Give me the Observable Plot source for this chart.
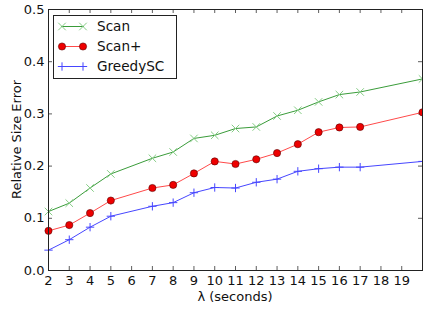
<!DOCTYPE html>
<html><head><meta charset="utf-8">
<script src="https://cdn.jsdelivr.net/npm/d3@7"></script>
<script src="https://cdn.jsdelivr.net/npm/@observablehq/plot@0.6"></script>
<style>
body{margin:0;background:#fff;}
#wrap{position:relative;width:423px;height:309px;font-family:"DejaVu Sans",sans-serif;}
</style>
</head><body><div id="wrap"></div>
<script>
const lambda   = [2, 3, 4, 5, 7, 8, 9, 10, 11, 12, 13, 14, 15, 16, 17, 20];
const scan     = [0.113, 0.129, 0.158, 0.185, 0.215, 0.227, 0.253, 0.259, 0.272, 0.275, 0.296, 0.307, 0.323, 0.337, 0.342, 0.367];
const scanPlus = [0.076, 0.087, 0.110, 0.134, 0.158, 0.164, 0.186, 0.209, 0.204, 0.213, 0.225, 0.242, 0.265, 0.274, 0.275, 0.303];
const greedySC = [0.039, 0.059, 0.083, 0.104, 0.123, 0.130, 0.149, 0.159, 0.158, 0.169, 0.175, 0.190, 0.195, 0.198, 0.198, 0.209];
const seriesNames = ["Scan", "Scan+", "GreedySC"];
const xTicks = [2, 3, 4, 5, 6, 7, 8, 9, 10, 11, 12, 13, 14, 15, 16, 17, 18, 19];
const yTicks = [0.0, 0.1, 0.2, 0.3, 0.4, 0.5];

const styles = {
  "Scan":     {line: "#3a9c3a", fill: "none", stroke: "#86cc86", symbol: "times", r: 3.5},
  "Scan+":    {line: "#ff4a4a", fill: "#ee0000", stroke: "#5a0000", symbol: "circle", r: 3.6},
  "GreedySC": {line: "#4646ff", fill: "none", stroke: "#4646ff", symbol: "plus", r: 2.8}
};
const valuesBy = {"Scan": scan, "Scan+": scanPlus, "GreedySC": greedySC};
const rows = seriesNames.flatMap(s => lambda.map((x, i) => ({series: s, x, y: valuesBy[s][i]})));

const W = 423, H = 309;
const mL = 48, mR = 1, mT = 9, mB = 39;
const marks = [];
// inward ticks on all four sides
const ty = 0.5 * 4 / (H - mT - mB);
marks.push(Plot.ruleX(xTicks, {x: d => d, y1: 0, y2: ty, stroke: "#333", strokeWidth: 0.8}));
marks.push(Plot.ruleX(xTicks, {x: d => d, y1: 0.5 - ty, y2: 0.5, stroke: "#333", strokeWidth: 0.8}));
const dxu = 18 * 4 / (W - mL - mR);
marks.push(Plot.ruleY(yTicks, {y: d => d, x1: 2, x2: 2 + dxu, stroke: "#333", strokeWidth: 0.8}));
marks.push(Plot.ruleY(yTicks, {y: d => d, x1: 20 - dxu, x2: 20, stroke: "#333", strokeWidth: 0.8}));
for (const s of seriesNames) {
  const st = styles[s];
  const data = rows.filter(d => d.series === s);
  marks.push(Plot.lineY(data, {x: "x", y: "y", stroke: st.line, strokeWidth: 1}));
  marks.push(Plot.dot(data, {x: "x", y: "y", symbol: () => st.symbol, r: st.r, fill: st.fill, stroke: st.stroke, strokeWidth: st.symbol === "circle" ? 0.6 : 1}));
}
marks.push(Plot.frame({stroke: "#222", strokeWidth: 1}));
marks.push(Plot.axisX(xTicks, {tickSize: 0, tickPadding: 5, label: null, fontSize: 13, fill: "#111"}));
marks.push(Plot.axisY(yTicks, {tickSize: 0, tickPadding: 4, tickFormat: d3.format(".1f"), label: null, fontSize: 13, fill: "#111"}));

const chart = Plot.plot({
  width: W, height: H,
  marginLeft: mL, marginRight: mR, marginTop: mT, marginBottom: mB,
  style: {fontFamily: "'DejaVu Sans', sans-serif", fontSize: "13px", background: "#fff", overflow: "visible"},
  x: {domain: [2, 20]},
  y: {domain: [0, 0.5]},
  symbol: {type: "identity"},
  marks
});
const wrap = document.getElementById("wrap");
wrap.appendChild(chart);

// axis titles & legend overlay
const svg = d3.select(chart);
svg.append("text").attr("x", mL + (W - mL - mR) / 2).attr("y", 301)
  .attr("text-anchor", "middle").attr("font-size", 13).attr("fill", "#111").text("λ (seconds)");
svg.append("text").attr("transform", `translate(21,${mT + (H - mT - mB) / 2}) rotate(-90)`)
  .attr("text-anchor", "middle").attr("font-size", 13).attr("fill", "#111").text("Relative Size Error");

const lg = svg.append("g").attr("text-anchor", "start");
lg.append("rect").attr("x", 53.5).attr("y", 15.5).attr("width", 123).attr("height", 63)
  .attr("fill", "#fff").attr("stroke", "#222").attr("stroke-width", 1);
seriesNames.forEach((s, i) => {
  const st = styles[s];
  const cy = 26.5 + i * 20;
  lg.append("line").attr("x1", 61).attr("x2", 84).attr("y1", cy).attr("y2", cy)
    .attr("stroke", st.line).attr("stroke-width", 1);
  for (const cx of [62, 83]) {
    const sym = st.symbol === "times" ? d3.symbolTimes : st.symbol === "plus" ? d3.symbolPlus : d3.symbolCircle;
    lg.append("path").attr("transform", `translate(${cx},${cy})`)
      .attr("d", d3.symbol(sym, Math.PI * st.r * st.r)())
      .attr("fill", st.fill).attr("stroke", st.stroke)
      .attr("stroke-width", st.symbol === "circle" ? 0.6 : 1);
  }
  lg.append("text").attr("x", 97).attr("y", cy + 4.8).attr("text-anchor", "start")
    .attr("font-size", 13.6).attr("fill", "#111").text(s);
});
</script>
</body></html>
